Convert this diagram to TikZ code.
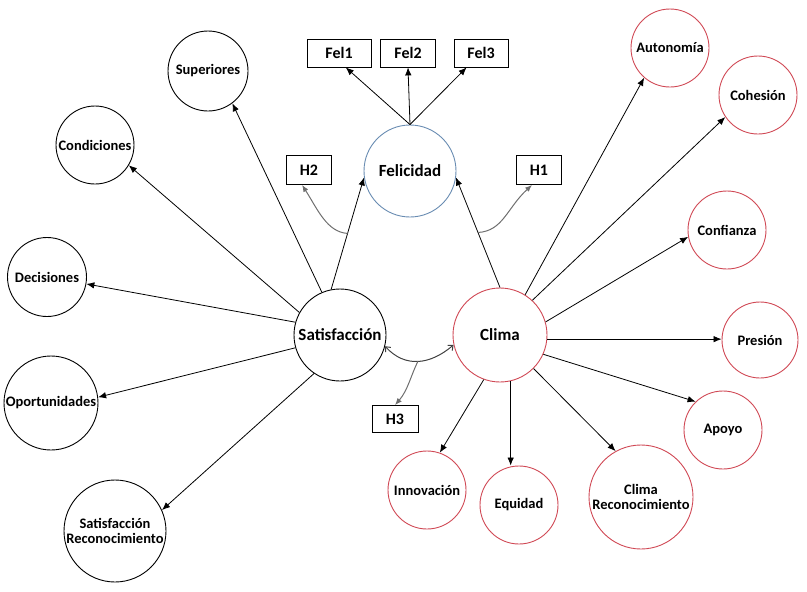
\documentclass[tikz,border=0pt]{standalone}
\usepackage{fontspec}
\setmainfont{Carlito}
\usetikzlibrary{arrows.meta}
\definecolor{redc}{RGB}{208,72,84}
\definecolor{bluec}{RGB}{105,140,178}
\definecolor{greyc}{RGB}{110,110,110}
\tikzset{
  circ/.style={circle, draw, line width=0.9pt, inner sep=0pt},
  redcirc/.style={circ, draw=redc},
  lbl/.style={font=\bfseries\fontsize{14.5}{15.5}\selectfont, inner sep=0pt, align=center},
  biglbl/.style={font=\bfseries\fontsize{17}{18}\selectfont, inner sep=0pt},
  box/.style={draw, line width=0.8pt, inner sep=0pt, minimum height=28pt, font=\bfseries\fontsize{16}{17}\selectfont},
  arr/.style={-{Latex[length=8pt,width=6.5pt]}, line width=0.8pt},
  garr/.style={-{Latex[length=7pt,width=5.5pt]}, draw=greyc, line width=1pt},
  barr/.style={{Straight Barb[length=4pt,width=7pt]}-{Straight Barb[length=4pt,width=7pt]}, line width=1pt, draw=black!75},
}
\begin{document}
\begin{tikzpicture}[x=1pt,y=-1pt]
\useasboundingbox (0,0) rectangle (807,592);
% central nodes
\node[circ, minimum size=92pt, label={[biglbl]center:Satisfacción}] (sat) at (340,335) {};
\node[redcirc, minimum size=94pt, label={[biglbl]center:Clima}] (clima) at (500,335) {};
\node[circ, draw=bluec, minimum size=92pt, label={[biglbl]center:Felicidad}] (fel) at (410,171) {};
% boxes
\node[box, minimum width=64pt] (fel1) at (339,53) {Fel1};
\node[box, minimum width=55pt] (fel2) at (408,53) {Fel2};
\node[box, minimum width=54pt] (fel3) at (481,53) {Fel3};
\node[box, minimum width=45pt, minimum height=29pt] (h2) at (309,170) {H2};
\node[box, minimum width=45pt, minimum height=29pt] (h1) at (539,170) {H1};
\node[box, minimum width=46pt, minimum height=27pt] (h3) at (395,419) {H3};
% left circles
\node[circ, minimum size=80pt, label={[lbl]center:Superiores}] (sup) at (208,71) {};
\node[circ, minimum size=78pt, label={[lbl]center:Condiciones}] (cond) at (95,145) {};
\node[circ, minimum size=79pt, label={[lbl]center:Decisiones}] (dec) at (47,277) {};
\node[circ, minimum size=94pt, label={[lbl]center:Oportunidades}] (opo) at (51,403) {};
\node[circ, minimum size=102pt, label={[lbl]center:{Satisfacción\\Reconocimiento}}] (srec) at (115,531) {};
% right circles
\node[redcirc, minimum size=78pt, label={[lbl]center:Autonomía}] (auto) at (670,48) {};
\node[redcirc, minimum size=78pt, label={[lbl]center:Cohesión}] (coh) at (758,95) {};
\node[redcirc, minimum size=78pt, label={[lbl]center:Confianza}] (conf) at (727,230) {};
\node[redcirc, minimum size=76pt, label={[lbl]center:Presión}] (pres) at (760,340) {};
\node[redcirc, minimum size=78pt, label={[lbl]center:Apoyo}] (apo) at (723,430) {};
\node[redcirc, minimum size=78pt, label={[lbl]center:Innovación}] (inno) at (427,490) {};
\node[redcirc, minimum size=78pt, label={[lbl]center:Equidad}] (equi) at (519,505) {};
\node[redcirc, minimum size=104pt, label={[lbl]center:{Clima\\Reconocimiento}}] (crec) at (641,497) {};
% Felicidad indicators
\draw[arr] (fel.north) -- (fel1.-65);
\draw[arr] (fel.north) -- (fel2.south);
\draw[arr] (fel.north) -- (fel3.-135);
% structural paths
\draw[arr] (sat.101) -- coordinate[pos=0.5] (h2s) (fel.188);
\draw[arr] (clima.90) -- coordinate[pos=0.5] (h1s) (fel.-8);
\draw[garr] (h2s) .. controls (327,232) and (318,210) .. (h2.-115);
\draw[garr] (h1s) .. controls (503,231) and (507,208) .. (h1.-115);
\draw[barr] (sat.-14) .. controls (405,368) and (430,365) .. coordinate[pos=0.5] (h3s) (clima.192);
\draw[garr] (h3s) .. controls (411,375) and (408,390) .. (h3.north);
% Satisfacción indicators
\draw[arr] (sat.113) -- (sup.-53);
\draw[arr] (sat.151) -- (cond.-31);
\draw[arr] (sat.164) -- (dec.-10);
\draw[arr] (sat.196) -- (opo.7);
\draw[arr] (sat.236) -- (srec.24);
% Clima indicators
\draw[arr] (clima.58) -- (auto.229);
\draw[arr] (clima.47) -- (coh.214);
\draw[arr] (clima.16) -- (conf.190);
\draw[arr] (clima.-5) -- (clima.-5 -| pres.west);
\draw[arr] (clima.-24) -- (apo.134);
\draw[arr] (clima.250) -- (inno.71);
\draw[arr] (clima.283) -- (clima.283 |- equi.north);
\draw[arr] (clima.-45) -- (crec.119);
\end{tikzpicture}
\end{document}
